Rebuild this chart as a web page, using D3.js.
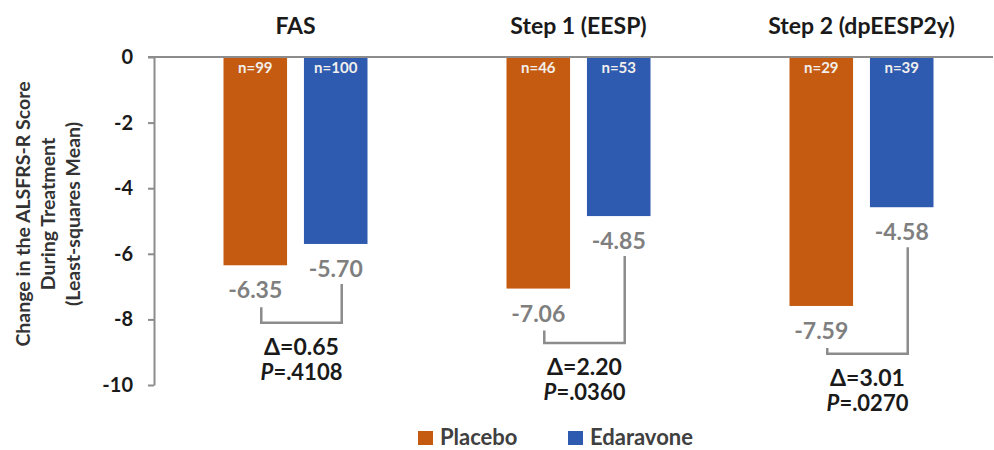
<!DOCTYPE html>
<html>
<head>
<meta charset="utf-8">
<script src="https://cdn.jsdelivr.net/npm/d3@7"></script>
<style>
  body { margin: 0; background: #fff; }
  text { font-family: Lato, "Open Sans", sans-serif; font-weight: bold; }
</style>
</head>
<body>
<div id="chart"></div>
<script>
// chart data
var groups = ["FAS", "Step 1 (EESP)", "Step 2 (dpEESP2y)"];
var seriesNames = ["Placebo", "Edaravone"];
var placebo = [-6.35, -7.06, -7.59];
var edaravone = [-5.70, -4.85, -4.58];
var placeboN = [99, 46, 29];
var edaravoneN = [100, 53, 39];
var deltas = ["0.65", "2.20", "3.01"];
var pValues = [".4108", ".0360", ".0270"];
var bracketLevel = [-8.1, -8.72, -9.05]; // where the comparison bracket sits
var yTicks = [0, -2, -4, -6, -8, -10];

var colors = { Placebo: "#c55a11", Edaravone: "#2e5bb0" };

var svgWidth = 994;
var svgHeight = 450;

var svg = d3.select("#chart")
  .append("svg")
  .attr("width", svgWidth)
  .attr("height", svgHeight);

// plain hyphen instead of d3's unicode minus
var fmtTick = function(d) { return d3.format("d")(d).replace("\u2212", "-"); };
var fmtVal = function(d) { return d3.format(".2f")(d).replace("\u2212", "-"); };

// scales
var y = d3.scaleLinear().domain([0, -10]).range([57, 385]);
var x0 = d3.scaleBand().domain(groups).range([154, 1003]);
var x1 = d3.scaleBand().domain(seriesNames).range([-72, 72]).paddingInner(0.21);

// table built from the arrays
var rows = groups.map(function(g, i) {
  return {
    group: g,
    values: [
      { name: "Placebo", value: placebo[i], n: placeboN[i] },
      { name: "Edaravone", value: edaravone[i], n: edaravoneN[i] }
    ],
    delta: deltas[i],
    p: pValues[i],
    bracket: bracketLevel[i]
  };
});

function barCenter(g, name) {
  return x0(g) + x0.bandwidth() / 2 + x1(name) + x1.bandwidth() / 2;
}

function flat(d) {
  return d.values.map(function(v) { return Object.assign({ group: d.group }, v); });
}

// y axis
var yAxis = svg.append("g")
  .attr("transform", "translate(154,0)")
  .call(d3.axisLeft(y).tickValues(yTicks).tickSize(6).tickSizeOuter(0).tickPadding(15)
    .tickFormat(fmtTick));
yAxis.select(".domain").attr("stroke", "#8c8c8c").attr("stroke-width", 2);
yAxis.selectAll(".tick line").attr("stroke", "#8c8c8c").attr("stroke-width", 2);
yAxis.selectAll(".tick text")
  .attr("fill", "#1a1a1a")
  .style("font-size", "20px")
  .style("font-family", "Lato, 'Open Sans', sans-serif")
  .style("font-weight", "bold");

// zero line
svg.append("line")
  .attr("x1", 148).attr("x2", 993)
  .attr("y1", y(0)).attr("y2", y(0))
  .attr("stroke", "#8c8c8c")
  .attr("stroke-width", 2);

// bars
var groupSel = svg.selectAll(".grp")
  .data(rows)
  .enter()
  .append("g")
  .attr("class", "grp");

groupSel.selectAll("rect")
  .data(flat)
  .enter()
  .append("rect")
  .attr("x", function(d) { return x0(d.group) + x0.bandwidth() / 2 + x1(d.name); })
  .attr("y", y(0) + 1)
  .attr("width", x1.bandwidth())
  .attr("height", function(d) { return y(d.value) - y(0) - 1; })
  .attr("fill", function(d) { return colors[d.name]; });

// n labels inside bars
groupSel.selectAll(".nlab")
  .data(flat)
  .enter()
  .append("text")
  .attr("class", "nlab")
  .attr("x", function(d) { return barCenter(d.group, d.name); })
  .attr("y", y(0) + 16)
  .attr("text-anchor", "middle")
  .attr("fill", "#f2efec")
  .style("font-size", "15px")
  .text(function(d) { return "n=" + d.n; });

// value labels under bars
groupSel.selectAll(".vlab")
  .data(flat)
  .enter()
  .append("text")
  .attr("class", "vlab")
  .attr("x", function(d) { return barCenter(d.group, d.name); })
  .attr("y", function(d) { return y(d.value) + 33; })
  .attr("text-anchor", "middle")
  .attr("fill", "#7f7f7f")
  .style("font-size", "23px")
  .text(function(d) { return fmtVal(d.value); });

// comparison brackets
groupSel.append("path")
  .attr("d", function(d) {
    var xl = barCenter(d.group, "Placebo") + 6;
    var xr = barCenter(d.group, "Edaravone") + 6;
    return "M" + xl + "," + (y(d.values[0].value) + 42) +
      "V" + y(d.bracket) + "H" + xr + "V" + (y(d.values[1].value) + 40);
  })
  .attr("fill", "none")
  .attr("stroke", "#8c8c8c")
  .attr("stroke-width", 2.5);

groupSel.append("text")
  .attr("x", function(d) { return (barCenter(d.group, "Placebo") + barCenter(d.group, "Edaravone")) / 2 + 6; })
  .attr("y", function(d) { return y(d.bracket) + 32; })
  .attr("text-anchor", "middle")
  .attr("fill", "#1a1a1a")
  .style("font-size", "23px")
  .text(function(d) { return "\u0394=" + d.delta; });

var pText = groupSel.append("text")
  .attr("x", function(d) { return (barCenter(d.group, "Placebo") + barCenter(d.group, "Edaravone")) / 2 + 6; })
  .attr("y", function(d) { return y(d.bracket) + 57; })
  .attr("text-anchor", "middle")
  .attr("fill", "#1a1a1a")
  .style("font-size", "22px");
pText.append("tspan").style("font-style", "italic").text("P");
pText.append("tspan").text(function(d) { return "=" + d.p; });

// group titles
svg.selectAll(".gtitle")
  .data(groups)
  .enter()
  .append("text")
  .attr("class", "gtitle")
  .attr("x", function(d) { return x0(d) + x0.bandwidth() / 2; })
  .attr("y", 34)
  .attr("text-anchor", "middle")
  .attr("fill", "#1a1a1a")
  .style("font-size", "23px")
  .text(function(d) { return d; });

// y axis title
var yTitle = ["Change in the ALSFRS-R Score", "During Treatment", "(Least-squares Mean)"];
svg.selectAll(".ytitle")
  .data(yTitle)
  .enter()
  .append("text")
  .attr("class", "ytitle")
  .attr("transform", function(d, i) { return "translate(" + (23 + i * 25) + ",214) rotate(-90)"; })
  .attr("dy", "0.35em")
  .attr("text-anchor", "middle")
  .attr("fill", "#333")
  .style("font-size", "19.5px")
  .text(function(d) { return d; });

// legend
var legendX = [418, 568];
var legend = svg.selectAll(".legend")
  .data(seriesNames)
  .enter()
  .append("g")
  .attr("class", "legend")
  .attr("transform", function(d, i) { return "translate(" + legendX[i] + ",431)"; });
legend.append("rect")
  .attr("width", 15).attr("height", 14)
  .attr("fill", function(d) { return colors[d]; });
legend.append("text")
  .attr("x", 22)
  .attr("y", 14)
  .attr("fill", "#404040")
  .style("font-size", "22px")
  .text(function(d) { return d; });
</script>
</body>
</html>
